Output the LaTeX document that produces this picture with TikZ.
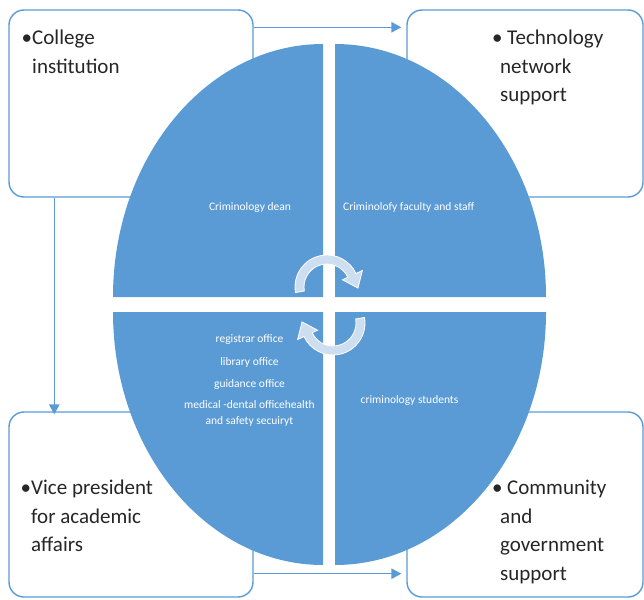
\documentclass[tikz,border=0pt]{standalone}
\usepackage{fontspec}
\setmainfont{Carlito}
\usetikzlibrary{arrows.meta}
\definecolor{smblue}{RGB}{91,155,213}
\definecolor{cycfill}{RGB}{205,222,241}

\begin{document}
\begin{tikzpicture}[x=1pt,y=-1pt,
  box/.style={draw=smblue,line width=1.4pt,fill=white,rounded corners=15pt,minimum width=244pt,minimum height=187pt},
  conn/.style={smblue,line width=1.4pt,-{Triangle[length=10pt,width=10.5pt]}},
  quad/.style={fill=smblue},
  cyc/.style={fill=cycfill,draw=white,line width=0.8pt},
  big/.style={inner sep=0pt,anchor=north west,align=left,font=\fontsize{21}{28.5}\selectfont,text=black!85},
  small/.style={inner sep=0pt,text=white,font=\fontsize{11.5}{15}\selectfont}]
\useasboundingbox (0,0) rectangle (644,599);
\node[box] (coll) at (131,103.5) {};
\node[box,minimum width=236pt] (tech) at (525,103.5) {};
\node[box,minimum height=185pt] (vp) at (131,504.5) {};
\node[box,minimum width=236pt,minimum height=185pt] (comm) at (525,504.5) {};
\draw[conn] ([yshift=-18pt]coll.north east) -- ([xshift=-5pt,yshift=-18pt]tech.north west);
\draw[conn] ([xshift=46pt]coll.south west) -- ([xshift=46pt,yshift=-3pt]vp.north west);
\draw[conn] ([yshift=24pt]vp.south east) -- ([xshift=-5pt,yshift=24pt]comm.south west);
\fill[quad] (323,297) -- (113,297) arc[start angle=180,end angle=90,x radius=210pt,y radius=253pt] -- cycle;
\fill[quad] (335,297) -- (546,297) arc[start angle=0,end angle=90,x radius=211pt,y radius=253pt] -- cycle;
\fill[quad] (323,312) -- (113,312) arc[start angle=180,end angle=270,x radius=210pt,y radius=253pt] -- cycle;
\fill[quad] (335,312) -- (546,312) arc[start angle=0,end angle=-90,x radius=211pt,y radius=253pt] -- cycle;
\node[big] (collt) at (32,30) {\llap{•}College\\institution};
\node[big] (techt) at (500,30) {\hspace*{7pt}\llap{•\ }Technology\\network\\support};
\node[big] (vpt) at (31,480) {\llap{•}Vice president\\for academic\\affairs};
\node[big] (commt) at (500,480) {\hspace*{7pt}\llap{•\ }Community\\and\\government\\support};
\node[small] (dean) at (250,207) {Criminology dean};
\node[small,anchor=west] (staff) at (343,207) {Criminolofy faculty and staff};
\node[small,align=center,anchor=north] (offices) at (249.5,334.5) {registrar office\\[8pt]library office\\[7pt]guidance office\\[6pt]medical -dental officehealth\\[1pt]and safety secuiryt};
\node[small] (students) at (409.5,400) {criminology students};
\begin{scope}[shift={(327,287)}]
\filldraw[cyc] (190:32pt) arc[start angle=190,end angle=25,radius=32pt] -- (25:39pt) -- (-2:31pt) -- (25:17pt) -- (25:23pt) arc[start angle=25,end angle=190,radius=23pt] -- cycle;
\end{scope}
\begin{scope}[shift={(333,323)},rotate=180]
\filldraw[cyc] (190:32pt) arc[start angle=190,end angle=25,radius=32pt] -- (25:39pt) -- (-2:31pt) -- (25:17pt) -- (25:23pt) arc[start angle=25,end angle=190,radius=23pt] -- cycle;
\end{scope}
\end{tikzpicture}
\end{document}
